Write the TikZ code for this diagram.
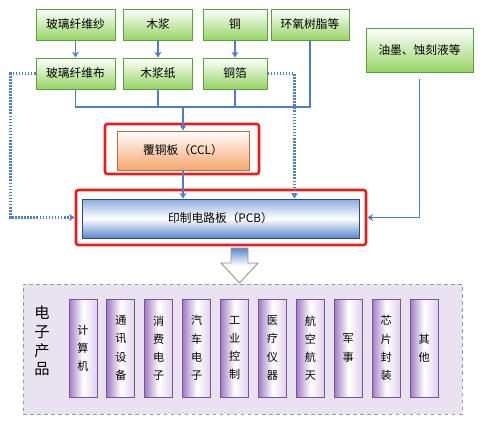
\documentclass[tikz,border=0pt]{standalone}
\usepackage{fontspec}
\setmainfont{Noto Sans CJK SC}
\usetikzlibrary{arrows.meta, positioning}
\definecolor{leafline}{RGB}{95,160,60}
\definecolor{leaffill}{RGB}{150,212,100}
\definecolor{wireblue}{RGB}{80,125,195}
\definecolor{alertred}{RGB}{232,30,30}
\definecolor{cclline}{RGB}{190,110,60}
\definecolor{cclfill}{RGB}{245,165,110}
\definecolor{pcbline}{RGB}{45,75,140}
\definecolor{pcbfill}{RGB}{90,135,205}
\definecolor{panelfill}{RGB}{233,227,241}
\definecolor{prodline}{RGB}{125,80,165}
\definecolor{prodfill}{RGB}{160,125,195}
\newcommand{\px}{0.03cm}

\begin{document}
\begin{tikzpicture}[x=0.03cm, y=-0.03cm,
    material/.style={draw=leafline, rectangle, thick, align=center,
                top color=white, bottom color=leaffill, minimum height=31*\px,
                font=\fontsize{10}{12}\selectfont, inner sep=1pt},
    laminate/.style={draw=cclline, rectangle, thick, align=center,
                top color=white, bottom color=cclfill,
                minimum width=132*\px, minimum height=39*\px,
                font=\fontsize{10}{12}\selectfont},
    board/.style={draw=pcbline, rectangle, thick, align=center,
                top color=pcbfill!70, bottom color=pcbfill, middle color=white,
                minimum width=277*\px, minimum height=39*\px,
                font=\fontsize{10}{12}\selectfont},
    redframe/.style={draw=alertred, line width=2.2pt, rounded corners=2pt,
                rectangle, inner sep=0pt},
    product/.style={draw=prodline, rectangle, thick, align=center,
                left color=prodfill, right color=prodfill!35, middle color=white,
                minimum width=28*\px, minimum height=98*\px, inner sep=0pt,
                font=\fontsize{9.5}{15.5}\selectfont},
    wire/.style={draw=wireblue, line width=1.6pt},
    arrow/.style={wire, -{Stealth[length=5pt, width=6pt]}},
    dotwire/.style={draw=wireblue, line width=1.8pt,
                dash pattern=on 1.4pt off 1.2pt, -{Stealth[length=5pt, width=6pt]}}
]
\useasboundingbox (0,0) rectangle (480,424);

%% ---- TOP ROW: raw materials ----
\node [material, minimum width=79*\px]  (yarn)   at (75.5, 24.5) {玻璃纤维纱};
\node [material, minimum width=69*\px]  (pulp)   at (158, 24.5)  {木浆};
\node [material, minimum width=64*\px]  (copper) at (235, 24.5)  {铜};
\node [material, minimum width=78*\px]  (epoxy)  at (310, 24.5)  {环氧树脂等};
\node [material, minimum width=107*\px, minimum height=44*\px] (ink) at (419.5, 50) {油墨、蚀刻液等};

%% ---- SECOND ROW: semi-finished ----
\node [material, minimum width=79*\px]  (cloth)  at (75.5, 73.5) {玻璃纤维布};
\node [material, minimum width=69*\px]  (paper)  at (158, 73.5)  {木浆纸};
\node [material, minimum width=64*\px]  (foil)   at (235, 73.5)  {铜箔};

%% ---- CCL and PCB ----
\node [laminate] (ccl) at (183, 150.5) {覆铜板（CCL）};
\node [redframe, minimum width=154*\px, minimum height=50*\px] (cclframe) at (182, 149) {};
\node [board] (pcb) at (220.5, 218.5) {印制电路板（PCB）};
\node [redframe, minimum width=290*\px, minimum height=55*\px] (pcbframe) at (221, 217.5) {};

%% ---- material arrows ----
\draw [arrow] (yarn)   -- (cloth);
\draw [arrow] (pulp)   -- (paper);
\draw [arrow] (copper) -- (foil);

%% ---- collecting bus into CCL ----
\coordinate (bus) at (183, 107);
\draw [wire] (cloth.south) |- (bus) -| (epoxy.south);
\draw [wire] (paper.south) -- (paper.south |- bus);
\draw [wire] (foil.south)  -- (foil.south |- bus);
\draw [arrow] (bus) -- (ccl.north);
\draw [arrow] (ccl.south) -- (ccl.south |- pcb.north);

%% ---- dotted side feeds and ink feed ----
\draw [dotwire] (foil.east) -- ++(27,0) coordinate (foilturn) -- (foilturn |- pcb.north);
\draw [dotwire] (cloth.west) -- ++(-25,0) |- (pcbframe.west);
\draw [arrow, shorten <=6pt] (ink.south) |- (pcbframe.east);

%% ---- big hollow arrow down to products ----
\draw [draw=gray!80, thick, top color=pcbfill, bottom color=white, middle color=white]
    (231,248) -- (248,248) -- (248,263) -- (258,263) -- (239.5,283)
    -- (221,263) -- (231,263) -- cycle;

%% ---- electronic products panel ----
\node [draw=gray!80, dashed, thick, fill=panelfill, rectangle,
       minimum width=439*\px, minimum height=130*\px] (panel) at (242.5, 349) {};
\node [align=center, font=\fontsize{13}{16}\selectfont] (elec) at (42, 341) {电\\子\\产\\品};
\foreach \name [count=\i from 0] in {计\\算\\机, 通\\讯\\设\\备, 消\\费\\电\\子,
        汽\\车\\电\\子, 工\\业\\控\\制, 医\\疗\\仪\\器, 航\\空\\航\\天,
        军\\事, 芯\\片\\封\\装, 其\\他}
    \node [product] (prod\i) at ({83+37.9*\i}, 348) {\name};

\end{tikzpicture}
\end{document}
